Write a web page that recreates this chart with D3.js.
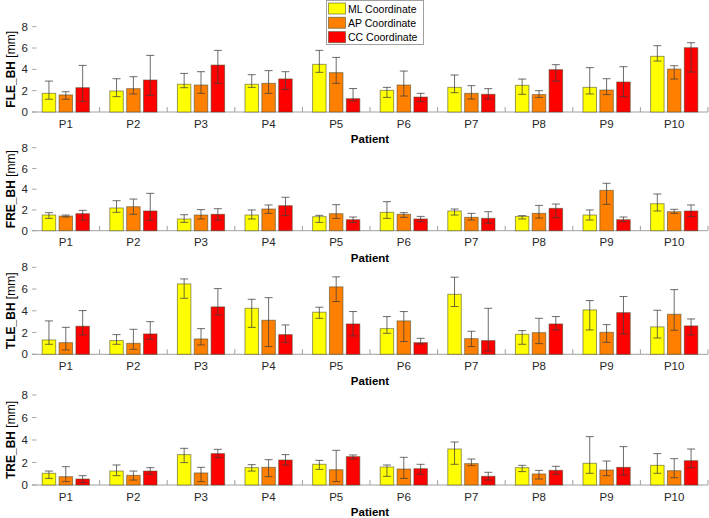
<!DOCTYPE html>
<html><head><meta charset="utf-8">
<script src="https://cdn.jsdelivr.net/npm/d3@7"></script>
<style>body{margin:0;background:#fff}svg{display:block}</style>
</head><body><svg id="c" width="709" height="518"></svg>
<script>
const categories = ["P1","P2","P3","P4","P5","P6","P7","P8","P9","P10"];
const seriesNames = ["ML Coordinate","AP Coordinate","CC Coordinate"];
const seriesColors = ["#ffff00","#ff8000","#ff0000"];
const yTicks = [0,2,4,6,8];
const panelLabels = ["FLE_BH","FRE_BH","TLE_BH","TRE_BH"];

// median values [ML, AP, CC]
const fleVal = [[1.75,1.97,2.6,2.6,4.47,2.03,2.31,2.5,2.31,5.22],
                [1.6,2.19,2.53,2.69,3.69,2.53,1.75,1.63,2.06,4.03],
                [2.28,3.0,4.4,3.1,1.25,1.4,1.66,3.97,2.81,6.03]];
const fleLo  = [[1.2,1.44,2.28,2.31,3.72,1.37,1.81,1.66,1.69,4.78],
                [1.2,1.69,1.75,1.75,2.69,1.5,1.22,1.37,1.63,3.09],
                [1.0,1.56,2.69,2.12,1.05,0.97,1.22,2.9,1.44,3.75]];
const fleHi  = [[2.9,3.12,3.62,3.5,5.78,2.31,3.47,3.09,4.16,6.22],
                [1.9,3.31,3.78,3.88,5.12,3.84,2.47,2.0,3.12,4.34],
                [4.37,5.31,5.78,3.78,2.2,1.75,2.19,4.44,4.25,6.5]];

const freVal = [[1.51,2.19,1.13,1.51,1.35,1.77,1.9,1.38,1.51,2.6],
                [1.41,2.31,1.51,2.09,1.64,1.58,1.29,1.67,3.89,1.83],
                [1.64,1.9,1.58,2.41,1.06,1.13,1.19,2.15,1.06,1.9]];
const freLo  = [[1.19,1.77,0.8,1.13,0.8,1.19,1.51,1.13,1.03,1.9],
                [1.32,1.58,1.13,1.67,1.19,1.29,1.03,1.22,2.54,1.67],
                [1.03,1.0,1.03,1.45,0.8,0.87,0.71,1.25,0.87,1.35]];
const freHi  = [[1.74,2.89,1.54,2.0,1.48,2.8,2.09,1.45,2.0,3.54],
                [1.51,3.05,2.03,2.48,2.51,1.74,1.67,2.44,4.57,2.06],
                [1.96,3.6,2.12,3.22,1.32,1.38,1.83,2.57,1.32,2.48]];

const tleVal = [[1.32,1.26,6.47,4.23,3.87,2.36,5.52,1.84,4.08,2.52],
                [1.07,1.01,1.41,3.13,6.2,3.07,1.44,1.99,2.02,3.68],
                [2.58,1.87,4.36,1.81,2.79,1.07,1.26,2.79,3.83,2.61]];
const tleLo  = [[0.92,0.92,5.15,2.48,3.31,1.93,4.39,0.92,2.24,1.5],
                [0.4,0.46,0.86,0.71,4.85,1.17,0.71,0.98,1.1,2.21],
                [1.78,1.38,3.62,1.1,1.69,0.95,0.3,2.24,1.87,1.78]];
const tleHi  = [[3.07,1.81,6.93,5.06,4.33,3.47,7.09,2.18,4.94,4.05],
                [2.48,2.3,2.36,5.21,7.12,3.93,2.12,3.31,2.73,5.95],
                [4.02,3.0,6.04,2.7,3.93,1.47,4.23,3.47,5.31,3.25]];

const treVal = [[1.04,1.24,2.7,1.54,1.84,1.6,3.2,1.54,1.93,1.75],
                [0.74,0.86,1.07,1.57,1.36,1.42,1.9,0.98,1.33,1.27],
                [0.53,1.24,2.79,2.22,2.52,1.45,0.77,1.3,1.57,2.16]];
const treLo  = [[0.59,0.83,1.99,1.24,1.39,0.77,1.84,1.19,1.04,1.04],
                [0.3,0.44,0.3,0.74,0.3,0.59,1.72,0.53,0.83,0.65],
                [0.24,0.95,2.43,1.78,2.31,0.95,0.44,0.95,0.89,1.54]];
const treHi  = [[1.24,1.78,3.26,1.81,2.19,1.78,3.82,1.75,4.3,2.79],
                [1.63,1.24,1.57,2.25,3.08,2.46,2.31,1.3,2.13,2.34],
                [0.83,1.54,3.17,2.7,2.67,1.84,1.13,1.66,3.41,3.2]];

const panelData = [[fleVal,fleLo,fleHi],[freVal,freLo,freHi],[tleVal,tleLo,tleHi],[treVal,treLo,treHi]];
// layout: [zero y, top (8) y]
const panelGeom = [[112,26.7],[230.7,147.7],[354.3,267.3],[485,395]];

const svg = d3.select("#c");
const FONT = "'Liberation Sans', Arial, Helvetica, sans-serif";
const x = d3.scaleBand().domain(categories).range([32,708]).paddingInner(0).paddingOuter(0);
const inner = d3.scaleBand().domain(d3.range(3)).range([-23.6,23.6]).paddingInner(0.2);

panelGeom.forEach((g, pi) => {
  const y = d3.scaleLinear().domain([0,8]).range([g[0], g[1]]);
  const gp = svg.append("g");
  // y ticks
  yTicks.forEach(t => {
    gp.append("line").attr("x1",32).attr("x2",36.5).attr("y1",y(t)).attr("y2",y(t))
      .attr("stroke","#a8a8a8").attr("stroke-width",1);
    gp.append("text").attr("x",28).attr("y",y(t)).attr("dy","0.36em")
      .attr("text-anchor","end").attr("font-family",FONT).attr("font-size",11.5)
      .attr("fill","#262626").text(t);
  });
  // baseline
  gp.append("line").attr("x1",32).attr("x2",708).attr("y1",y(0)).attr("y2",y(0))
    .attr("stroke","#a0a0a0").attr("stroke-width",1);
  // category boundary ticks
  categories.forEach((c,i)=>{
    const bx = x(c);
    if (i>0) gp.append("line").attr("x1",bx).attr("x2",bx).attr("y1",y(0)).attr("y2",y(0)-5)
      .attr("stroke","#a0a0a0");
  });
  gp.append("line").attr("x1",708).attr("x2",708).attr("y1",y(0)).attr("y2",y(0)-5).attr("stroke","#a0a0a0");
  // bars
  const [vals, lo, hi] = panelData[pi];
  vals.forEach((sv, si) => {
    sv.forEach((v, ci) => {
      const cx = x(categories[ci]) + x.bandwidth()/2;
      const bx = cx + inner(si);
      const bw = inner.bandwidth();
      gp.append("rect").attr("x",bx).attr("y",y(v)).attr("width",bw).attr("height",y(0)-y(v))
        .attr("fill",seriesColors[si]).attr("stroke","rgba(70,70,40,0.55)").attr("stroke-width",1);
      const mx = bx + bw/2;
      const e = gp.append("g").attr("stroke","rgba(60,60,60,0.75)").attr("stroke-width",1);
      e.append("line").attr("x1",mx).attr("x2",mx).attr("y1",y(hi[si][ci])).attr("y2",y(lo[si][ci]));
      e.append("line").attr("x1",mx-4).attr("x2",mx+4).attr("y1",y(hi[si][ci])).attr("y2",y(hi[si][ci]));
      e.append("line").attr("x1",mx-4).attr("x2",mx+4).attr("y1",y(lo[si][ci])).attr("y2",y(lo[si][ci]));
    });
  });
  // x labels
  categories.forEach(c=>{
    gp.append("text").attr("x",x(c)+x.bandwidth()/2).attr("y",y(0)+15.5)
      .attr("text-anchor","middle").attr("font-family",FONT).attr("font-size",11.5)
      .attr("fill","#262626").text(c);
  });
  gp.append("text").attr("x",370).attr("y",y(0)+31).attr("text-anchor","middle")
    .attr("font-family",FONT).attr("font-size",11.5).attr("font-weight","bold")
    .attr("fill","#000").text("Patient");
  // y label
  const yl = gp.append("text").attr("transform",`translate(15,${(y(0)+y(8))/2}) rotate(-90)`)
    .attr("text-anchor","middle").attr("font-family",FONT).attr("font-size",12).attr("fill","#000");
  yl.append("tspan").attr("font-weight","bold").text(panelLabels[pi]);
  yl.append("tspan").text(" [mm]");
});

// legend
const lg = svg.append("g");
lg.append("rect").attr("x",326.5).attr("y",0.5).attr("width",97).attr("height",44)
  .attr("fill","#fff").attr("stroke","#a0a0a0");
seriesNames.forEach((n,i)=>{
  lg.append("rect").attr("x",328.5).attr("y",3+i*14.3).attr("width",17).attr("height",11)
    .attr("fill",seriesColors[i]).attr("stroke","rgba(70,70,40,0.55)");
  lg.append("text").attr("x",348).attr("y",9+i*14.3).attr("dy","0.36em")
    .attr("font-family",FONT).attr("font-size",10.5).attr("fill","#000").text(n);
});
</script></body></html>
